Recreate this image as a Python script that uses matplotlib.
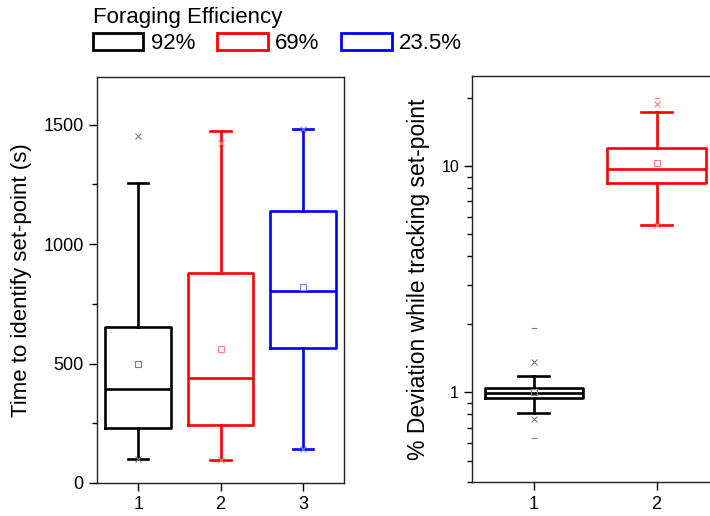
import matplotlib.pyplot as plt
from matplotlib.patches import Patch
from matplotlib.ticker import LogLocator, NullFormatter, FixedLocator

plt.rcParams['font.family'] = ['Liberation Sans', 'DejaVu Sans']

# ---- data ----
groups = ['92%', '69%', '23.5%']
colors = ['#000000', '#ff0000', '#0000ff']
light = ['#7f7f7f', '#ff7f7f', '#7f7fff']

# left panel: time to identify set-point (s)
t_pos = [1, 2, 3]
t_whislo = [100, 95, 142]
t_q1 = [229, 243, 565]
t_med = [392, 440, 804]
t_q3 = [653, 879, 1140]
t_whishi = [1255, 1474, 1481]
t_mean = [497, 561, 822]
t_min = [100, 95, 142]
t_max = [1452, 1422, 1481]

# right panel: % deviation while tracking set-point
d_pos = [1, 2]
d_whislo = [0.81, 5.5]
d_q1 = [0.944, 8.44]
d_med = [0.996, 9.7]
d_q3 = [1.045, 12.05]
d_whishi = [1.18, 17.4]
d_mean = [1.0, 10.4]
d_min = [0.76, 5.5]
d_max = [1.365, 18.8]
d_p1 = [0.63, None]
d_p99 = [1.92, 20.1]


def stats(lo, q1, med, q3, hi, mean):
    return [dict(whislo=a, q1=b, med=c, q3=d, whishi=e, mean=f, fliers=[])
            for a, b, c, d, e, f in zip(lo, q1, med, q3, hi, mean)]


def draw(ax, st, pos, n):
    for i in range(n):
        c = colors[i]
        ax.bxp([st[i]], positions=[pos[i]], widths=0.8, showmeans=True,
               boxprops=dict(color=c, lw=1.9),
               medianprops=dict(color=c, lw=1.9),
               whiskerprops=dict(color=c, lw=1.9),
               capprops=dict(color=c, lw=1.9),
               capwidths=0.25,
               meanprops=dict(marker='s', markersize=4.5, markerfacecolor='none',
                              markeredgecolor=light[i], markeredgewidth=0.8))


fig = plt.figure(figsize=(7.10, 5.16), dpi=100)

ax1 = fig.add_axes([0.1366, 0.064, 0.348, 0.787])
draw(ax1, stats(t_whislo, t_q1, t_med, t_q3, t_whishi, t_mean), t_pos, 3)
for i in range(3):
    ax1.plot([t_pos[i]] * 2, [t_min[i], t_max[i]], ls='none', marker='x',
             ms=5, mew=0.8, color=light[i])
ax1.set_xlim(0.5, 3.5)
ax1.set_ylim(0, 1700)
ax1.set_xticks(t_pos)
ax1.set_xticklabels(['1', '2', '3'])
ax1.yaxis.set_major_locator(FixedLocator([0, 500, 1000, 1500]))
ax1.yaxis.set_minor_locator(FixedLocator([250, 750, 1250]))
ax1.set_ylabel('Time to identify set-point (s)', fontsize=16, labelpad=8)

ax2 = fig.add_axes([0.6652, 0.065, 0.346, 0.787])
ax2.set_yscale('log')
draw(ax2, stats(d_whislo, d_q1, d_med, d_q3, d_whishi, d_mean), d_pos, 2)
for i in range(2):
    ax2.plot([d_pos[i]] * 2, [d_min[i], d_max[i]], ls='none', marker='x',
             ms=5, mew=0.8, color=light[i])
    for v in (d_p1[i], d_p99[i]):
        if v is not None:
            ax2.plot([d_pos[i]], [v], ls='none', marker='_', ms=5, mew=0.8,
                     color=light[i])
ax2.set_xlim(0.5, 2.5)
ax2.set_ylim(0.4, 25)
ax2.set_xticks(d_pos)
ax2.set_xticklabels(['1', '2'])
ax2.yaxis.set_major_locator(FixedLocator([1, 10]))
ax2.yaxis.set_major_formatter(plt.FixedFormatter(['1', '10']))
ax2.yaxis.set_minor_locator(LogLocator(base=10, subs=range(2, 10)))
ax2.yaxis.set_minor_formatter(NullFormatter())
ax2.set_ylabel('% Deviation while tracking set-point', fontsize=16.5, labelpad=8)

for ax in (ax1, ax2):
    for s in ax.spines.values():
        s.set_linewidth(1.0)
        s.set_color('#222222')
    ax.tick_params(which='major', direction='out', length=6, width=1,
                   labelsize=13, top=False, right=False)
    ax.tick_params(which='minor', direction='out', length=3.5, width=1,
                   top=False, right=False)
ax2.tick_params(axis='y', which='major', labelsize=11.5)

handles = [Patch(facecolor='white', edgecolor=c, lw=2) for c in colors]
leg = fig.legend(handles, groups, loc='upper left', bbox_to_anchor=(0.131, 0.986),
                 ncol=3, frameon=False, fontsize=16, title='Foraging Efficiency',
                 title_fontsize=16, alignment='left', handlelength=2.27,
                 handleheight=0.82, handletextpad=0.32, columnspacing=1.0,
                 borderpad=0.0, borderaxespad=0.0, labelspacing=0.2)

fig.savefig('out.png', dpi=100)
